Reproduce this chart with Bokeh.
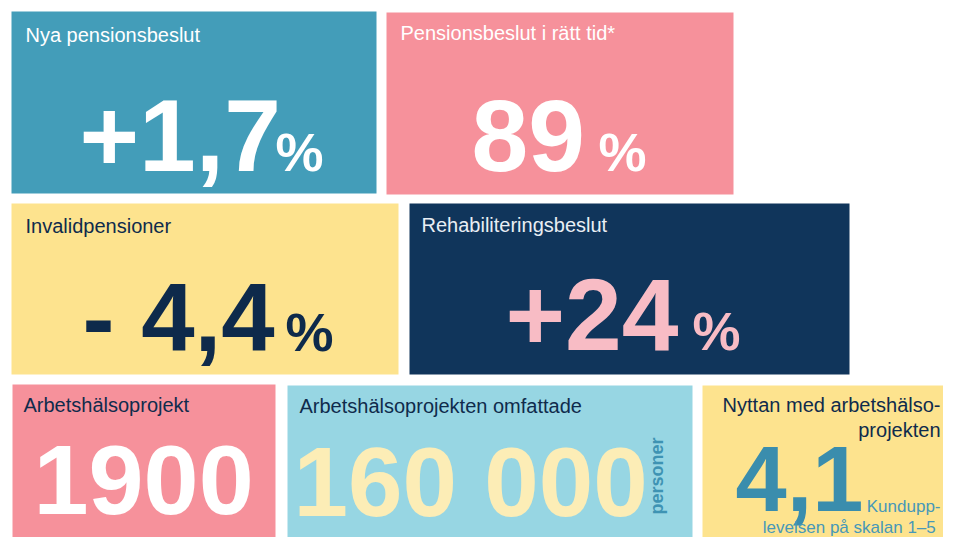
from bokeh.plotting import figure
from bokeh.models import Range1d, ColumnDataSource
from bokeh.core.properties import value
from bokeh.embed import file_html
from bokeh.resources import INLINE

# ---- data ----
titles = ["Nya pensionsbeslut", "Pensionsbeslut i rätt tid*", "Invalidpensioner",
          "Rehabiliteringsbeslut", "Arbetshälsoprojekt", "Arbetshälsoprojekten omfattade",
          "Nyttan med arbetshälso-\nprojekten"]
values = ["+1,7", "89", "- 4,4", "+24", "1900", "160 000", "4,1"]
units = ["%", "%", "%", "%", "", "personer", "Kundupp-\nlevelsen på skalan  1–5"]

# ---- layout / style (figure pixel coordinates, baselines) ----
tiles_l = [11, 386, 11, 409, 12, 287, 702]
tiles_r = [376, 733, 398, 849, 275, 692, 960]
tiles_t = [11, 12, 203, 203, 384, 385, 385]
tiles_b = [193, 194, 374, 374, 560, 560, 560]
tile_col = ["#439DB9", "#F6919B", "#FDE38E", "#10355B", "#F6919B", "#97D6E3", "#FDE38E"]
title_col = ["#FFFFFF", "#FFFFFF", "#0F2B4C", "#E9EEF4", "#0F2B4C", "#0F2B4C", "#0F2B4C"]
val_col = ["#FFFFFF", "#FFFFFF", "#0E2A4B", "#F8BCC5", "#FFFFFF", "#FCEDB6", "#3A8DAD"]
unit_col = ["#FFFFFF", "#FFFFFF", "#0E2A4B", "#F8BCC5", "#FFFFFF", "#3E93B3", "#4798B8"]
title_pos = [(25, 41, "left"), (400, 39, "left"), (25, 232, "left"), (421, 231, "left"),
             (23, 411, "left"), (299, 412, "left"), (940, 411, "right")]
val_pos = [(79, 170), (471, 170), (82, 350), (505, 349), (33, 514), (293, 515), (735, 510)]
val_size = [102, 102, 96, 102, 99, 98, 92]
unit_pos = [(275, 170), (598, 170), (285, 350), (692, 349), (0, 0), (663, 514), (940, 512)]

MID = 0.3465  # em offset from alphabetic baseline to the middle of the font box

W, H = 943, 537
p = figure(width=W, height=H, output_backend="svg", toolbar_location=None,
           x_range=Range1d(0, W), y_range=Range1d(H, 0),
           min_border=0, outline_line_color=None)
p.axis.visible = False
p.grid.visible = False
p.background_fill_color = "white"
p.border_fill_color = "white"

p.quad(left=tiles_l, right=tiles_r, top=tiles_t, bottom=tiles_b,
       fill_color=tile_col, line_color=None)

REG = value("Liberation Sans")

# titles
tt = dict(x=[], y=[], text=[], color=[], align=[])
for i, t in enumerate(titles):
    tx, ty, ta = title_pos[i]
    for k, line in enumerate(t.split("\n")):
        tt["x"].append(tx)
        tt["y"].append(ty + k * 25 - MID * 20)
        tt["text"].append(line)
        tt["color"].append(title_col[i])
        tt["align"].append(ta)
p.text(x="x", y="y", text="text", text_color="color", text_align="align",
       source=ColumnDataSource(tt), text_font=REG, text_font_size="20px",
       text_baseline="middle")

# big values
vv = dict(x=[], y=[], text=[], color=[], size=[])
for i, v in enumerate(values):
    vx, vy = val_pos[i]
    vv["x"].append(vx)
    vv["y"].append(vy - MID * val_size[i])
    vv["text"].append(v)
    vv["color"].append(val_col[i])
    vv["size"].append(f"{val_size[i]}px")
p.text(x="x", y="y", text="text", text_color="color", text_font_size="size",
       source=ColumnDataSource(vv), text_font=REG, text_font_style="bold",
       text_align="left", text_baseline="middle")

# percent signs
pc = dict(x=[], y=[], text=[], color=[])
for i, u in enumerate(units):
    if u == "%":
        ux, uy = unit_pos[i]
        pc["x"].append(ux)
        pc["y"].append(uy - MID * 54)
        pc["text"].append(u)
        pc["color"].append(unit_col[i])
p.text(x="x", y="y", text="text", text_color="color", source=ColumnDataSource(pc),
       text_font=REG, text_font_style="bold", text_font_size="54px",
       text_align="left", text_baseline="middle")

# note lines (right aligned)
nn = dict(x=[], y=[], text=[], color=[])
for i, u in enumerate(units):
    if "\n" in u:
        ux, uy = unit_pos[i]
        for k, line in enumerate(u.split("\n")):
            nn["x"].append(ux)
            nn["y"].append(uy + k * 21 - MID * 17)
            nn["text"].append(line)
            nn["color"].append(unit_col[i])
p.text(x="x", y="y", text="text", text_color="color", source=ColumnDataSource(nn),
       text_font=REG, text_font_size="17px", text_align="right", text_baseline="middle")

# rotated unit
rr = dict(x=[], y=[], text=[], color=[])
for i, u in enumerate(units):
    if u and u != "%" and "\n" not in u:
        ux, uy = unit_pos[i]
        rr["x"].append(ux - MID * 18)
        rr["y"].append(uy)
        rr["text"].append(u)
        rr["color"].append(unit_col[i])
p.text(x="x", y="y", text="text", text_color="color", source=ColumnDataSource(rr),
       text_font=REG, text_font_style="bold", text_font_size="18px",
       text_align="left", text_baseline="middle", angle=1.5707963)

open("out.html", "w").write(file_html(p, INLINE))
